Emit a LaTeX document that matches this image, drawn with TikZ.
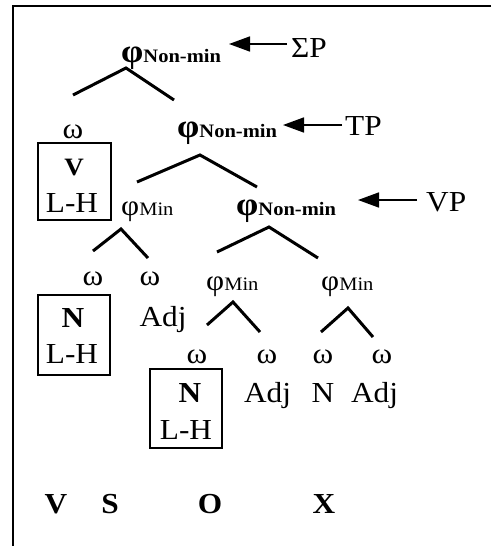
\documentclass[tikz,border=0pt]{standalone}
\usepackage{fontspec}
\setmainfont{Liberation Serif}[FakeStretch=1.08]
\usetikzlibrary{arrows.meta}
\newcommand{\mylabNM}{{\fontsize{33}{34}\selectfont\bfseries φ}{\fontsize{19}{20}\selectfont\bfseries Non-min}}
\newcommand{\mylabMin}{φ{\fontsize{19}{20}\selectfont Min}}
\tikzset{
  txt/.style={inner sep=0pt, anchor=base, font=\fontsize{29}{31}\selectfont},
  lab/.style={inner sep=0pt, anchor=base west, font=\fontsize{29}{31}\selectfont},
  branch/.style={line width=3pt},
  arr/.style={line width=1.6pt, -{Triangle[length=21pt,width=15pt]}},
  hbox/.style={draw, line width=1.2pt, inner sep=0pt},
  frame/.style={line width=2pt}
}
\begin{document}
\begin{tikzpicture}[x=1pt,y=-1pt]
\useasboundingbox (0,0) rectangle (491,546);
\draw[frame] (491,6) -- (12.5,6) -- (12.5,546);

% level 1
\node[lab] (n1) at (121,62) {\mylabNM};
\node[lab] (SP) at (291,57) {ΣP};
\coordinate (s1) at (287,44); \coordinate (s2) at (229,44);
\draw[arr] (s1) -- (s2);
\coordinate (a1) at (126,68); \coordinate (a1l) at (73,95); \coordinate (a1r) at (174,100);
\draw[branch] (a1l) -- (a1) -- (a1r);

% level 2
\node[txt] (w1) at (73,138) {ω};
\node[lab] (n2) at (177,137) {\mylabNM};
\node[lab] (TP) at (345,135) {TP};
\coordinate (t1) at (342,125); \coordinate (t2) at (283,125);
\draw[arr] (t1) -- (t2);
\coordinate (a2) at (200,155); \coordinate (a2l) at (137,182); \coordinate (a2r) at (257,187);
\draw[branch] (a2l) -- (a2) -- (a2r);

% box V
\draw[hbox] (38,143) rectangle (111,220);
\node[txt, font=\fontsize{25}{27}\selectfont\bfseries] (bV) at (74,175) {V};
\node[txt] (bLH1) at (72,212) {L-H};

% level 3
\node[lab] (m1) at (121,215) {\mylabMin};
\node[lab] (n3) at (236,215) {\mylabNM};
\node[lab] (VP) at (426,211) {VP};
\coordinate (v1) at (417,200); \coordinate (v2) at (358,200);
\draw[arr] (v1) -- (v2);
\coordinate (a3) at (121,229); \coordinate (a3l) at (93,251); \coordinate (a3r) at (148,258);
\draw[branch] (a3l) -- (a3) -- (a3r);
\coordinate (a4) at (269,227); \coordinate (a4l) at (217,252); \coordinate (a4r) at (318,258);
\draw[branch] (a4l) -- (a4) -- (a4r);

% level 4
\node[txt] (w2) at (93,285) {ω};
\node[txt] (w3) at (150,285) {ω};
\node[lab] (m2) at (206,290) {\mylabMin};
\node[lab] (m3) at (321,290) {\mylabMin};
\node[txt] (adj1) at (163,326) {Adj};
\draw[hbox] (38,295) rectangle (110,375);
\node[txt] (bN1) at (73,327) {\textbf{N}};
\node[txt] (bLH2) at (72,363) {L-H};
\coordinate (a5) at (233,302); \coordinate (a5l) at (207,325); \coordinate (a5r) at (260,332);
\draw[branch] (a5l) -- (a5) -- (a5r);
\coordinate (a6) at (348,308); \coordinate (a6l) at (321,332); \coordinate (a6r) at (373,337);
\draw[branch] (a6l) -- (a6) -- (a6r);

% level 5
\node[txt] (w4) at (197,363) {ω};
\node[txt] (w5) at (267,363) {ω};
\node[txt] (w6) at (323,363) {ω};
\node[txt] (w7) at (382,363) {ω};
\draw[hbox] (150,369) rectangle (222,448);
\node[txt] (bN2) at (190,402) {\textbf{N}};
\node[txt] (bLH3) at (186,439) {L-H};
\node[txt] (adj2) at (267.5,402) {Adj};
\node[txt] (nn) at (323,402) {N};
\node[txt] (adj3) at (374.5,402) {Adj};

% bottom row
\node[txt] (oV) at (56,513) {\textbf{V}};
\node[txt] (oS) at (110,513) {\textbf{S}};
\node[txt] (oO) at (210,513) {\textbf{O}};
\node[txt] (oX) at (324,513) {\textbf{X}};
\end{tikzpicture}
\end{document}
